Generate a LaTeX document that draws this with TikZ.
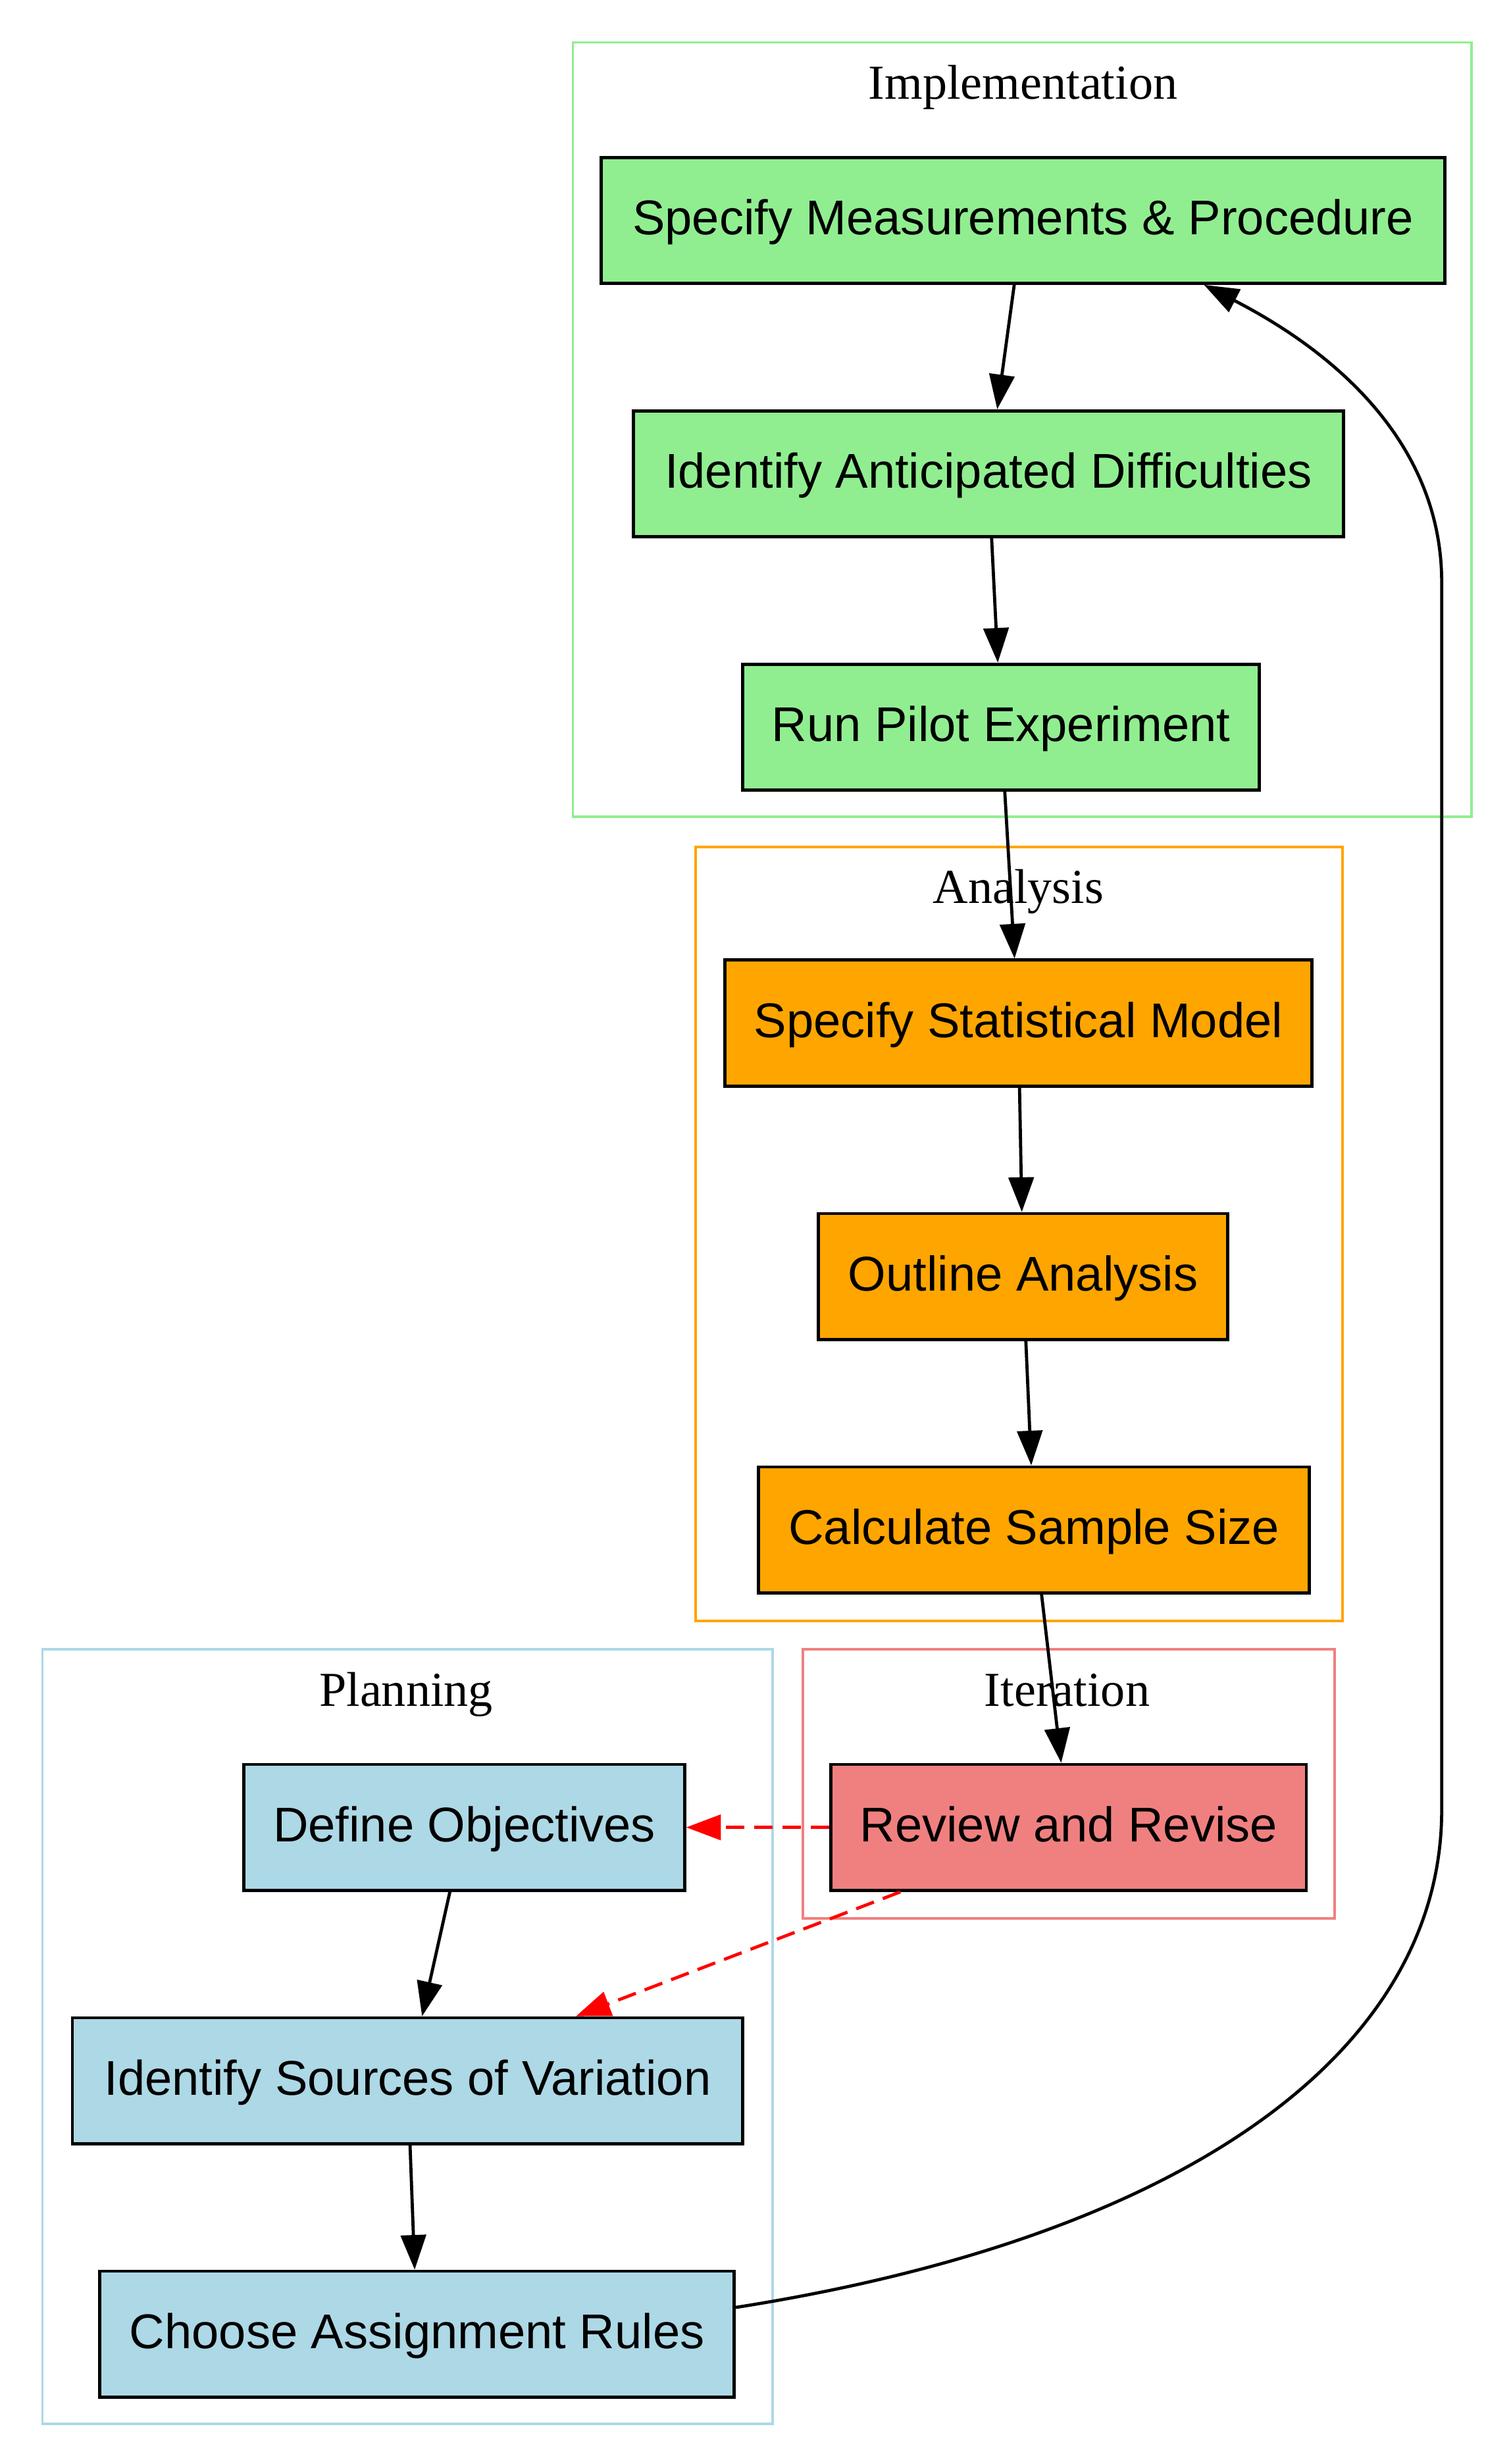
\documentclass[tikz,border=0pt]{standalone}
\usepackage{fontspec}
\setmainfont{Liberation Serif}
\newfontfamily\boxfont{Liberation Sans}
\usetikzlibrary{arrows.meta}
\definecolor{lightgreen}{HTML}{90EE90}
\definecolor{gvorange}{HTML}{FFA500}
\definecolor{lightblue}{HTML}{ADD8E6}
\definecolor{lightcoral}{HTML}{F08080}
\begin{document}
\begin{tikzpicture}[x=1pt,y=-1pt,line width=1.6pt]
  \tikzstyle{stage}=[draw,rectangle,inner sep=0pt,minimum height=80pt,line width=2pt,
    font=\boxfont\fontsize{31}{37}\selectfont,text height=28pt,text depth=10pt]
  \tikzstyle{cluster}=[font=\fontsize{31}{37}\selectfont,anchor=base]
  \tikzstyle{flow}=[-{Triangle[length=22pt,width=16pt]},line width=2pt]
  \tikzstyle{revise}=[flow,red,dash pattern=on 12pt off 6pt]
  \useasboundingbox (0,0) rectangle (960,1565.5);
  % clusters
  \draw[lightgreen] (364,27) rectangle (935,519);
  \node[cluster] (impl) at (650,63) {Implementation};
  \draw[gvorange] (442,538) rectangle (853,1030);
  \node[cluster] (anal) at (647,574) {Analysis};
  \draw[lightblue] (27,1048) rectangle (491,1540);
  \node[cluster] (plan) at (258,1084) {Planning};
  \draw[lightcoral] (510,1048) rectangle (848,1219);
  \node[cluster] (iter) at (678,1084) {Iteration};
  % stages
  \node[stage,fill=lightgreen,minimum width=536pt] (smp) at (650,140) {Specify Measurements \& Procedure};
  \node[stage,fill=lightgreen,minimum width=451pt] (iad) at (628,301) {Identify Anticipated Difficulties};
  \node[stage,fill=lightgreen,minimum width=328pt] (rpe) at (636,462) {Run Pilot Experiment};
  \node[stage,fill=gvorange,minimum width=373pt] (ssm) at (647,650) {Specify Statistical Model};
  \node[stage,fill=gvorange,minimum width=260pt] (oa) at (650,811) {Outline Analysis};
  \node[stage,fill=gvorange,minimum width=350pt] (css) at (657,972) {Calculate Sample Size};
  \node[stage,fill=lightblue,minimum width=280pt] (do) at (295,1161) {Define Objectives};
  \node[stage,fill=lightblue,minimum width=426pt] (isv) at (259,1322) {Identify Sources of Variation};
  \node[stage,fill=lightblue,minimum width=403pt] (car) at (265,1483) {Choose Assignment Rules};
  \node[stage,fill=lightcoral,minimum width=302pt] (rr) at (679,1161) {Review and Revise};
  % edges
  \draw[flow] (smp) -- (iad);
  \draw[flow] (iad) -- (rpe);
  \draw[flow] (rpe) -- (ssm);
  \draw[flow] (ssm) -- (oa);
  \draw[flow] (oa) -- (css);
  \draw[flow] (css) -- (rr);
  \draw[flow] (do) -- (isv);
  \draw[flow] (isv) -- (car);
  \draw[revise] (rr) -- (do);
  \draw[revise] (rr) -- (isv);
  \draw[flow] ([yshift=17pt]car.east) .. controls (760,1420) and (916,1300) .. (916,1150)
    -- (916,370) .. controls (916,290) and (860,230) .. ([xshift=115pt]smp.south);
\end{tikzpicture}
\end{document}
